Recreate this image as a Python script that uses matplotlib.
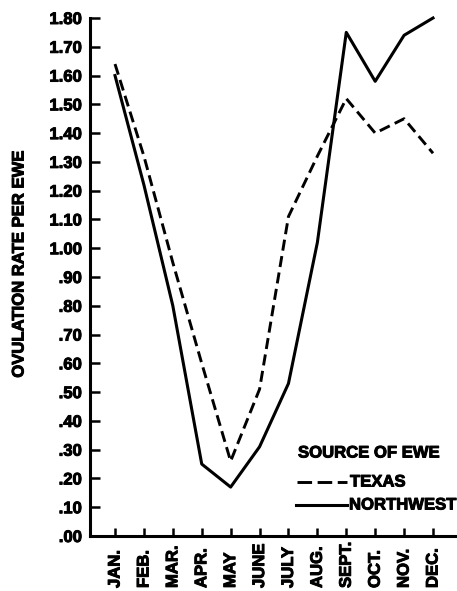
import matplotlib
matplotlib.use("Agg")
import matplotlib.pyplot as plt
import matplotlib.patheffects as pe
from matplotlib.transforms import blended_transform_factory

plt.rcParams['font.family'] = ['Liberation Sans', 'DejaVu Sans']
plt.rcParams['font.weight'] = 'bold'

months = ["JAN.", "FEB.", "MAR.", "APR.", "MAY", "JUNE",
          "JULY", "AUG.", "SEPT.", "OCT.", "NOV.", "DEC."]
texas = [1.64, 1.32, 0.95, 0.60, 0.26, 0.51,
         1.11, 1.32, 1.52, 1.40, 1.45, 1.33]
northwest = [1.60, 1.22, 0.80, 0.25, 0.17, 0.31,
             0.53, 1.02, 1.75, 1.58, 1.74, 1.80]
yticks = [i / 10 for i in range(19)]
ytick_labels = [("%.2f" % v) if v >= 1 else ("%.2f" % v)[1:] for v in yticks]

# heavier lettering
heavy = [pe.withStroke(linewidth=0.7, foreground="black")]

W, H = 457, 591
fig = plt.figure(figsize=(W / 100, H / 100), dpi=100)
ax = fig.add_axes([90 / W, (H - 536) / H, 367 / W, 518 / H])

x = list(range(len(months)))
ax.plot(x, texas, color="black", lw=2.1, dashes=(3.8, 1.9),
        solid_joinstyle="miter", clip_on=False)
ax.plot(x, northwest, color="black", lw=2.2, clip_on=False)

ax.set_xlim(-0.865, 11.83)
ax.set_ylim(0, 1.80)

for s in ("top", "right"):
    ax.spines[s].set_visible(False)
for s in ("left", "bottom"):
    ax.spines[s].set_linewidth(2.2)

ax.set_yticks(yticks)
ax.set_yticklabels(ytick_labels, fontsize=12, fontweight="bold")
for lbl in ax.get_yticklabels():
    lbl.set_path_effects(heavy)
ax.tick_params(axis="y", direction="in", length=7.5, width=1.8, pad=6)

ax.set_xticks(x)
ax.set_xticklabels([])
ax.tick_params(axis="x", direction="in", length=5.8, width=1.8)

# month names, rotated and aligned on their starting end
trans = blended_transform_factory(ax.transData, ax.transAxes)
for xi, name in zip(x, months):
    ax.text(xi, -(588 - 536) / 518, name, rotation=90, ha="center",
            va="bottom", fontsize=12, fontweight="bold", transform=trans,
            path_effects=heavy)

fig.text(19 / W, 1 - 264.5 / H, "OVULATION RATE PER EWE", rotation=90,
         ha="center", va="center", fontsize=12, fontweight="bold",
         path_effects=heavy)

# key
def ax_frac(px, py):
    return (px - 90) / 367, (536 - py) / 518

tx, ty = ax_frac(298, 453)
ax.text(tx, ty, "SOURCE OF EWE", transform=ax.transAxes, ha="left",
        va="center", fontsize=12, fontweight="bold", path_effects=heavy)
x0, y0 = ax_frac(297, 482)
x1, _ = ax_frac(347, 482)
ax.plot([x0, x1], [y0, y0], transform=ax.transAxes, color="black",
        lw=2.1, dashes=(5.0, 1.9), clip_on=False)
lx, _ = ax_frac(350, 482)
ax.text(lx, y0, "TEXAS", transform=ax.transAxes, ha="left", va="center",
        fontsize=12, fontweight="bold", path_effects=heavy)
x0, y1 = ax_frac(296, 505)
x1, _ = ax_frac(347, 505)
ax.plot([x0, x1], [y1, y1], transform=ax.transAxes, color="black",
        lw=2.2, clip_on=False)
lx, _ = ax_frac(349, 505)
ax.text(lx, y1, "NORTHWEST", transform=ax.transAxes, ha="left", va="center",
        fontsize=12, fontweight="bold", path_effects=heavy)

fig.savefig("out.png", dpi=100)
